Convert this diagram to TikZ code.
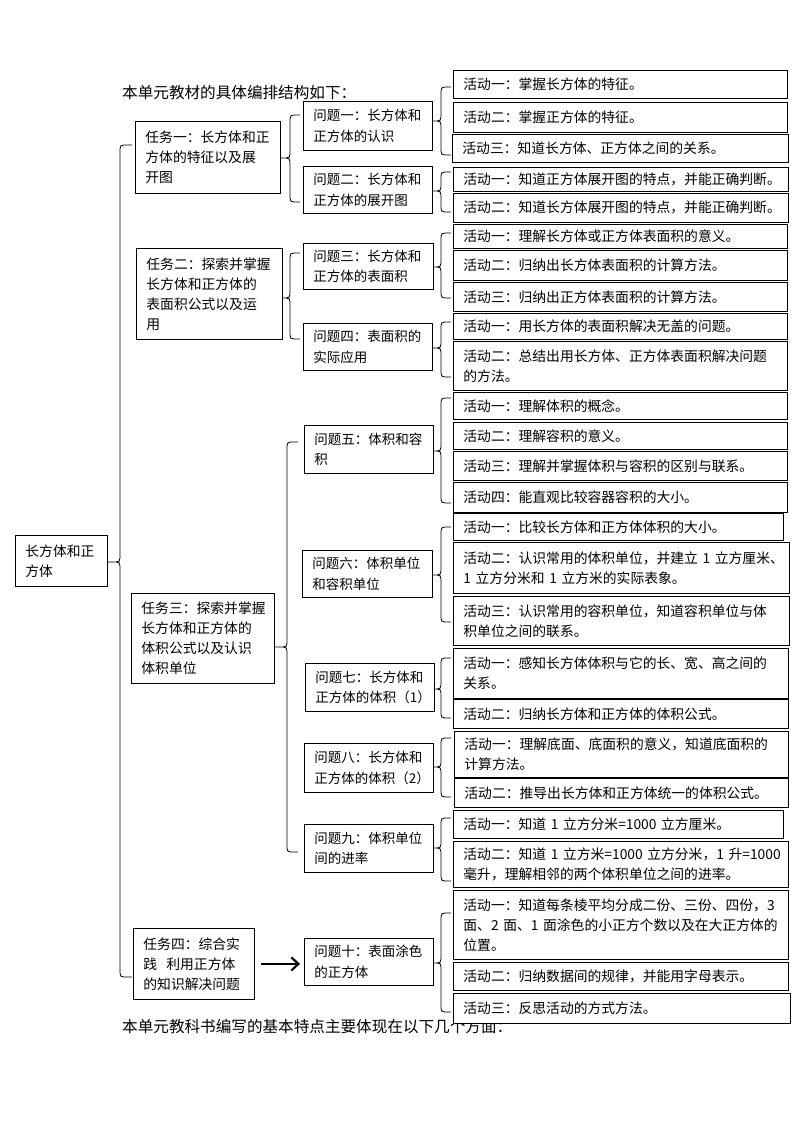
\documentclass[tikz,border=0pt]{standalone}
\usepackage{fontspec}
\setmainfont{Noto Sans CJK SC}
\usetikzlibrary{arrows.meta,calc}
\tikzset{
  box/.style={draw=black, fill=white, line width=0.8pt, inner xsep=10pt, inner ysep=1pt,
    align=left, font=\fontsize{13.8}{20}\selectfont},
  pbox/.style={box, font=\fontsize{13.5}{20.5}\selectfont},
  conn/.style={draw=black, line width=0.8pt},
  bigarrow/.style={draw=black, line width=2.6pt, -{Straight Barb[length=7pt,width=13pt,line width=2.2pt]}},
  headtext/.style={anchor=west, inner sep=0pt, font=\fontsize{15.6}{18}\selectfont}
}
% box: style, name, left, top, right, bottom, text (pixel coordinates, y downward)
\newcommand\bx[7][box]{%
  \pgfmathsetmacro\bxw{#5-#3-20}%
  \pgfmathsetmacro\bxh{#6-#4}%
  \node[#1, text width=\bxw pt, minimum height=\bxh pt, anchor=north west] (#2) at (#3,-#4) {#7};%
}
% brace: parent, tip y, x of line, top y, bottom y, x of ends
\newcommand\brc[6]{%
  \draw[conn] let \p1=(#1.east) in
    (\x1,-#2pt) -- (#3pt-4pt,-#2pt)
    .. controls (#3pt-1pt,-#2pt) and (#3pt,-#2pt+1pt) .. (#3pt,-#2pt+4pt)
    -- (#3pt,-#4pt-4pt)
    .. controls (#3pt,-#4pt-1pt) and (#3pt+1pt,-#4pt) .. (#3pt+4pt,-#4pt)
    -- (#6pt,-#4pt)
    (#3pt-4pt,-#2pt)
    .. controls (#3pt-1pt,-#2pt) and (#3pt,-#2pt-1pt) .. (#3pt,-#2pt-4pt)
    -- (#3pt,-#5pt+4pt)
    .. controls (#3pt,-#5pt+1pt) and (#3pt+1pt,-#5pt) .. (#3pt+4pt,-#5pt)
    -- (#6pt,-#5pt);%
}
\begin{document}
\begin{tikzpicture}[x=1pt,y=1pt]
\fill[white] (0,0) rectangle (794,-1123);
\useasboundingbox (0,0) rectangle (794,-1123);

\node[headtext] (title) at (122,-93) {本单元教材的具体编排结构如下：};
\node[headtext] (closing) at (122,-1027) {本单元教科书编写的基本特点主要体现在以下几个方面：};

% root and tasks
\bx{root}{15}{535}{107}{586}{长方体和正\\方体}
\bx{t1}{135}{121}{280}{193}{任务一：长方体和正\\方体的特征以及展\\开图}
\bx{t2}{136}{248}{282}{339}{任务二：探索并掌握\\长方体和正方体的\\表面积公式以及运\\用}
\bx{t3}{131}{593}{274}{683}{任务三：探索并掌握\\长方体和正方体的\\体积公式以及认识\\体积单位}
\bx{t4}{133}{928}{254}{999}{任务四：综合实\\践~~利用正方体\\的知识解决问题}

% problems
\bx[pbox]{p1}{303}{101}{432}{150}{问题一：长方体和\\正方体的认识}
\bx[pbox]{p2}{303}{166}{432}{213}{问题二：长方体和\\正方体的展开图}
\bx[pbox]{p3}{303}{243}{433}{289}{问题三：长方体和\\正方体的表面积}
\bx[pbox]{p4}{303}{323}{432}{370}{问题四：表面积的\\实际应用}
\bx[pbox]{p5}{304}{425}{433}{473}{问题五：体积和容\\积}
\bx[pbox]{p6}{302}{550}{432}{597}{问题六：体积单位\\和容积单位}
\bx[pbox]{p7}{305}{663}{434}{711}{问题七：长方体和\\正方体的体积（1）}
\bx[pbox]{p8}{304}{743}{433}{792}{问题八：长方体和\\正方体的体积（2）}
\bx[pbox]{p9}{304}{824}{433}{872}{问题九：体积单位\\间的进率}
\bx[pbox]{p10}{304}{938}{433}{985}{问题十：表面涂色\\的正方体}

% activities
\bx{a11}{453}{70}{787}{98}{活动一：掌握长方体的特征。}
\bx{a12}{453}{102}{787}{132}{活动二：掌握正方体的特征。}
\bx{a13}{452}{134}{788}{162}{活动三：知道长方体、正方体之间的关系。}
\bx{a21}{453}{167}{788}{191}{活动一：知道正方体展开图的特点，并能正确判断。}
\bx{a22}{453}{193}{788}{222}{活动二：知道长方体展开图的特点，并能正确判断。}
\bx{a31}{453}{224}{787}{248}{活动一：理解长方体或正方体表面积的意义。}
\bx{a32}{453}{250}{787}{280}{活动二：归纳出长方体表面积的计算方法。}
\bx{a33}{453}{282}{787}{311}{活动三：归纳出正方体表面积的计算方法。}
\bx{a41}{453}{313}{787}{339}{活动一：用长方体的表面积解决无盖的问题。}
\bx{a42}{453}{341}{787}{390}{活动二：总结出用长方体、正方体表面积解决问题\\的方法。}
\bx{a51}{453}{392}{787}{419}{活动一：理解体积的概念。}
\bx{a52}{453}{422}{787}{449}{活动二：理解容积的意义。}
\bx{a53}{453}{451}{787}{480}{活动三：理解并掌握体积与容积的区别与联系。}
\bx{a54}{453}{482}{787}{512}{活动四：能直观比较容器容积的大小。}
\bx{a61}{453}{513}{783}{540}{活动一：比较长方体和正方体体积的大小。}
\bx{a62}{453}{542}{789}{593}{活动二：认识常用的体积单位，并建立~1~立方厘米、\\1~立方分米和~1~立方米的实际表象。}
\bx{a63}{453}{596}{789}{645}{活动三：认识常用的容积单位，知道容积单位与体\\积单位之间的联系。}
\bx{a71}{453}{648}{788}{698}{活动一：感知长方体体积与它的长、宽、高之间的\\关系。}
\bx{a72}{453}{699}{788}{728}{活动二：归纳长方体和正方体的体积公式。}
\bx{a81}{454}{731}{788}{777}{活动一：理解底面、底面积的意义，知道底面积的\\计算方法。}
\bx{a82}{454}{778}{788}{807}{活动二：推导出长方体和正方体统一的体积公式。}
\bx{a91}{453}{810}{783}{838}{活动一：知道~1~立方分米=1000~立方厘米。}
\bx{a92}{453}{841}{788}{887}{活动二：知道~1~立方米=1000~立方分米，1~升=1000\\毫升，理解相邻的两个体积单位之间的进率。}
\bx{a101}{453}{890}{788}{959}{活动一：知道每条棱平均分成二份、三份、四份，3\\面、2~面、1~面涂色的小正方个数以及在大正方体的\\位置。}
\bx{a102}{453}{962}{788}{990}{活动二：归纳数据间的规律，并能用字母表示。}
\bx{a103}{453}{993}{790}{1023}{活动三：反思活动的方式方法。}

% braces
\brc{root}{562}{120}{145}{977}{132}
\brc{t1}{158}{290}{115}{202}{300}
\brc{t2}{298}{290}{253}{339}{300}
\brc{t3}{647}{287}{442}{852}{298}
\brc{p1}{121}{441}{87}{155}{451}
\brc{p2}{191}{441}{172}{212}{451}
\brc{p3}{267}{441}{233}{298}{451}
\brc{p4}{348}{441}{322}{377}{451}
\brc{p5}{451}{441}{398}{503}{451}
\brc{p6}{575}{441}{527}{622}{451}
\brc{p7}{689}{441}{658}{718}{451}
\brc{p8}{767}{441}{738}{797}{451}
\brc{p9}{848}{441}{818}{881}{451}
\brc{p10}{963}{441}{913}{1012}{451}

% arrow from task four to problem ten
\draw[bigarrow, shorten <=6pt, shorten >=4pt] (t4.east) -- (t4.east -| p10.west);
\end{tikzpicture}
\end{document}
